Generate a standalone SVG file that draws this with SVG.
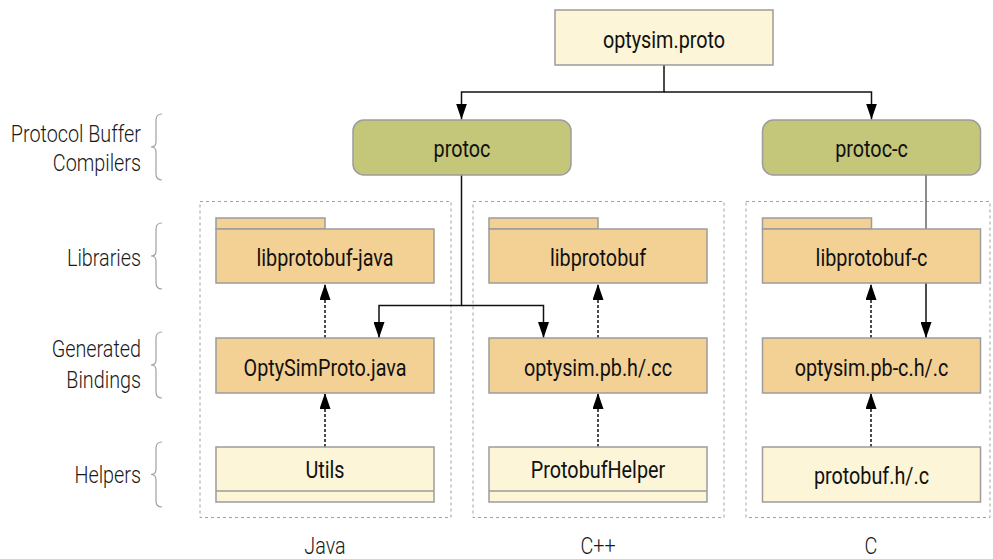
<svg xmlns="http://www.w3.org/2000/svg" width="993" height="559" viewBox="0 0 993 559">
  <style>
    .cream { fill: #fcf5d8; stroke: #9c9c9c; stroke-width: 1.5; }
    .orange { fill: #f3d094; stroke: #9c9c9c; stroke-width: 1.5; }
    .olive { fill: #c4c67a; stroke: #9c9c9c; stroke-width: 1.5; }
    .group { fill: none; stroke: #a0a0a0; stroke-width: 1; stroke-dasharray: 3 3; }
    .brace { fill: none; stroke: #a0a0a0; stroke-width: 1.2; }
    .node-text { font-family: Roboto, "Liberation Sans", sans-serif; font-size: 23px; fill: #111; text-anchor: middle; }
    .label { font-family: Roboto, "Liberation Sans", sans-serif; font-size: 23px; font-weight: 300; fill: #1a1a1a; text-anchor: end; }
    .lang { font-family: Roboto, "Liberation Sans", sans-serif; font-size: 23px; font-weight: 300; fill: #1a1a1a; text-anchor: middle; }
    .flow { fill: none; stroke: #111; stroke-width: 1.5; }
    .dep { fill: none; stroke: #111; stroke-width: 1.5; stroke-dasharray: 3 2; }
  </style>
  <defs>
    <marker id="arrow" viewBox="0 0 16 11" refX="16" refY="5.5" markerWidth="16" markerHeight="11" markerUnits="userSpaceOnUse" orient="auto">
      <path d="M0,0 L16,5.5 L0,11 z" fill="#000"/>
    </marker>
  </defs>

  <rect width="993" height="559" fill="#fff"/>

  <!-- row labels with braces -->
  <g id="row-labels">
    <text class="label" transform="translate(141,142) scale(0.86,1)">Protocol Buffer</text>
    <text class="label" transform="translate(141,171) scale(0.86,1)">Compilers</text>
    <text class="label" transform="translate(141,266) scale(0.86,1)">Libraries</text>
    <text class="label" transform="translate(141,357) scale(0.86,1)">Generated</text>
    <text class="label" transform="translate(141,388) scale(0.86,1)">Bindings</text>
    <text class="label" transform="translate(141,483) scale(0.86,1)">Helpers</text>
    <path class="brace" d="M162,114 Q156,114 156,120 L156,142 Q156,147 151,147 Q156,147 156,152 L156,174 Q156,180 162,180"/>
    <path class="brace" d="M162,223 Q156,223 156,229 L156,251 Q156,256 151,256 Q156,256 156,261 L156,283 Q156,289 162,289"/>
    <path class="brace" d="M162,332 Q156,332 156,338 L156,360 Q156,365 151,365 Q156,365 156,370 L156,392 Q156,398 162,398"/>
    <path class="brace" d="M162,442 Q156,442 156,448 L156,469 Q156,474.5 151,474.5 Q156,474.5 156,480 L156,501 Q156,507 162,507"/>
  </g>

  <!-- language groups -->
  <g id="lang-java">
    <rect class="group" x="200" y="201.5" width="251" height="316"/>
    <text class="lang" transform="translate(325,554) scale(0.86,1)">Java</text>
  </g>
  <g id="lang-cpp">
    <rect class="group" x="473" y="201.5" width="251" height="316"/>
    <text class="lang" transform="translate(598,554) scale(0.86,1)">C++</text>
  </g>
  <g id="lang-c">
    <rect class="group" x="746" y="201.5" width="244" height="316"/>
    <text class="lang" transform="translate(871,554) scale(0.86,1)">C</text>
  </g>

  <!-- connectors -->
  <g id="connectors">
    <path class="flow" d="M664,65 V92 H461.5 V119.5" marker-end="url(#arrow)"/>
    <path class="flow" d="M664,92 H871.5 V119.5" marker-end="url(#arrow)"/>
    <path class="flow" d="M461.5,175 V305.5 H379 V338" marker-end="url(#arrow)"/>
    <path class="flow" d="M461.5,305.5 H543.5 V338" marker-end="url(#arrow)"/>
    <path class="flow" d="M926,175 V230" style="stroke:#666"/>
    <path class="flow" d="M926,283 V338" marker-end="url(#arrow)"/>
    <path class="dep" d="M325,338 V284" marker-end="url(#arrow)"/>
    <path class="dep" d="M325,447 V393" marker-end="url(#arrow)"/>
    <path class="dep" d="M598,338 V284" marker-end="url(#arrow)"/>
    <path class="dep" d="M598,447 V393" marker-end="url(#arrow)"/>
    <path class="dep" d="M871,338 V284" marker-end="url(#arrow)"/>
    <path class="dep" d="M871,447 V393" marker-end="url(#arrow)"/>
  </g>

  <!-- nodes -->
  <g id="optysim-proto">
    <rect class="cream" x="555" y="10" width="218" height="55"/>
    <text class="node-text" transform="translate(664,48) scale(0.86,1)">optysim.proto</text>
  </g>
  <g id="protoc">
    <rect class="olive" x="353" y="120" width="218" height="55" rx="11"/>
    <text class="node-text" transform="translate(462,157) scale(0.86,1)">protoc</text>
  </g>
  <g id="protoc-c">
    <rect class="olive" x="762.5" y="120" width="218" height="55" rx="11"/>
    <text class="node-text" transform="translate(871.5,157) scale(0.86,1)">protoc-c</text>
  </g>

  <g id="libprotobuf-java">
    <rect class="orange" x="216" y="218" width="109" height="11"/>
    <rect class="orange" x="216" y="229" width="218" height="54"/>
    <text class="node-text" transform="translate(325,266) scale(0.86,1)">libprotobuf-java</text>
  </g>
  <g id="optysimproto-java">
    <rect class="orange" x="216" y="338" width="218" height="55"/>
    <text class="node-text" transform="translate(325,375.5) scale(0.86,1)">OptySimProto.java</text>
  </g>
  <g id="utils">
    <rect class="cream" x="216" y="447" width="218" height="55"/>
    <line x1="216" y1="491" x2="434" y2="491" stroke="#9c9c9c" stroke-width="1.5"/>
    <text class="node-text" transform="translate(325,477.5) scale(0.86,1)">Utils</text>
  </g>

  <g id="libprotobuf">
    <rect class="orange" x="489" y="218" width="109" height="11"/>
    <rect class="orange" x="489" y="229" width="218" height="54"/>
    <text class="node-text" transform="translate(598,266) scale(0.86,1)">libprotobuf</text>
  </g>
  <g id="optysim-pb-cc">
    <rect class="orange" x="489" y="338" width="218" height="55"/>
    <text class="node-text" transform="translate(598,375.5) scale(0.86,1)">optysim.pb.h/.cc</text>
  </g>
  <g id="protobuf-helper">
    <rect class="cream" x="489" y="447" width="218" height="55"/>
    <line x1="489" y1="491" x2="707" y2="491" stroke="#9c9c9c" stroke-width="1.5"/>
    <text class="node-text" transform="translate(598,477.5) scale(0.86,1)">ProtobufHelper</text>
  </g>

  <g id="libprotobuf-c">
    <rect class="orange" x="762.5" y="218" width="109" height="11"/>
    <rect class="orange" x="762.5" y="229" width="218" height="54"/>
    <text class="node-text" transform="translate(871.5,266) scale(0.86,1)">libprotobuf-c</text>
  </g>
  <g id="optysim-pb-c">
    <rect class="orange" x="762.5" y="338" width="218" height="55"/>
    <text class="node-text" transform="translate(871.5,375.5) scale(0.86,1)">optysim.pb-c.h/.c</text>
  </g>
  <g id="protobuf-c-helper">
    <rect class="cream" x="762.5" y="447" width="218" height="55"/>
    <text class="node-text" transform="translate(871.5,484) scale(0.86,1)">protobuf.h/.c</text>
  </g>
</svg>
